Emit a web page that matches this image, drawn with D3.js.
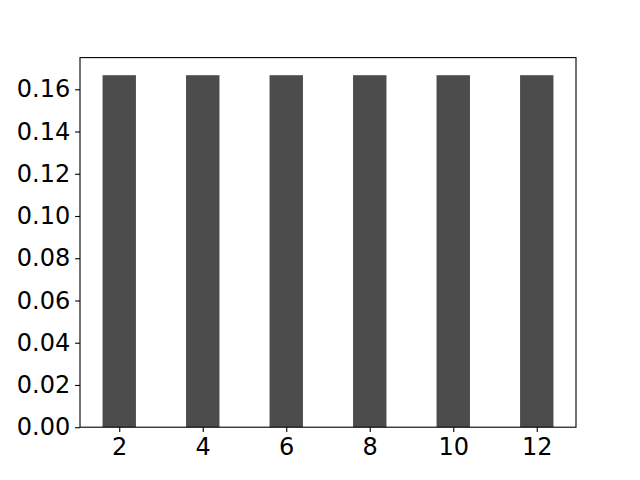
<!DOCTYPE html>
<html><head><meta charset="utf-8">
<script src="https://cdn.jsdelivr.net/npm/d3@7"></script>
<style>body{margin:0;background:#fff}svg{display:block}</style>
</head><body>
<script>
const categories = [2, 4, 6, 8, 10, 12];
const values = [1/6, 1/6, 1/6, 1/6, 1/6, 1/6];
const yTicks = [0, 0.02, 0.04, 0.06, 0.08, 0.10, 0.12, 0.14, 0.16];
const xTicks = [2, 4, 6, 8, 10, 12];

const W = 640, H = 480;
const m = {left: 80, right: 576, top: 57.6, bottom: 427.2};
const svg = d3.select("body").append("svg").attr("width", W).attr("height", H);

const barW = 0.8;
const x0 = d3.min(categories) - barW/2, x1 = d3.max(categories) + barW/2;
const pad = (x1 - x0) * 0.05;
const x = d3.scaleLinear().domain([x0 - pad, x1 + pad]).range([m.left, m.right]);
const ymax = d3.max(values) * 1.05;
const y = d3.scaleLinear().domain([0, ymax]).range([m.bottom, m.top]);

svg.append("g").selectAll("rect").data(categories).join("rect")
  .attr("x", d => x(d - barW/2))
  .attr("width", d => x(d + barW/2) - x(d - barW/2))
  .attr("y", (d, i) => y(values[i]))
  .attr("height", (d, i) => y(0) - y(values[i]))
  .attr("fill", "#4c4c4c");

const xAxis = svg.append("g").attr("transform", `translate(0,${m.bottom})`)
  .call(d3.axisBottom(x).tickValues(xTicks).tickSize(4.9).tickPadding(5.5).tickFormat(d3.format("d")));
const yAxis = svg.append("g").attr("transform", `translate(${m.left},0)`)
  .call(d3.axisLeft(y).tickValues(yTicks).tickSize(4.9).tickPadding(4.9).tickFormat(d3.format(".2f")));
[xAxis, yAxis].forEach(g => {
  g.attr("font-size", null).attr("font-family", null);
  g.select(".domain").remove();
  g.selectAll("text").style("font-family", "DejaVu Sans").style("font-size", "24px").style("fill", "#000");
  g.selectAll("line").attr("stroke", "#000").attr("stroke-width", 1.1);
});
svg.append("rect").attr("x", m.left).attr("y", m.top)
  .attr("width", m.right - m.left).attr("height", m.bottom - m.top)
  .attr("fill", "none").attr("stroke", "#000").attr("stroke-width", 1.1);
</script>
</body></html>
